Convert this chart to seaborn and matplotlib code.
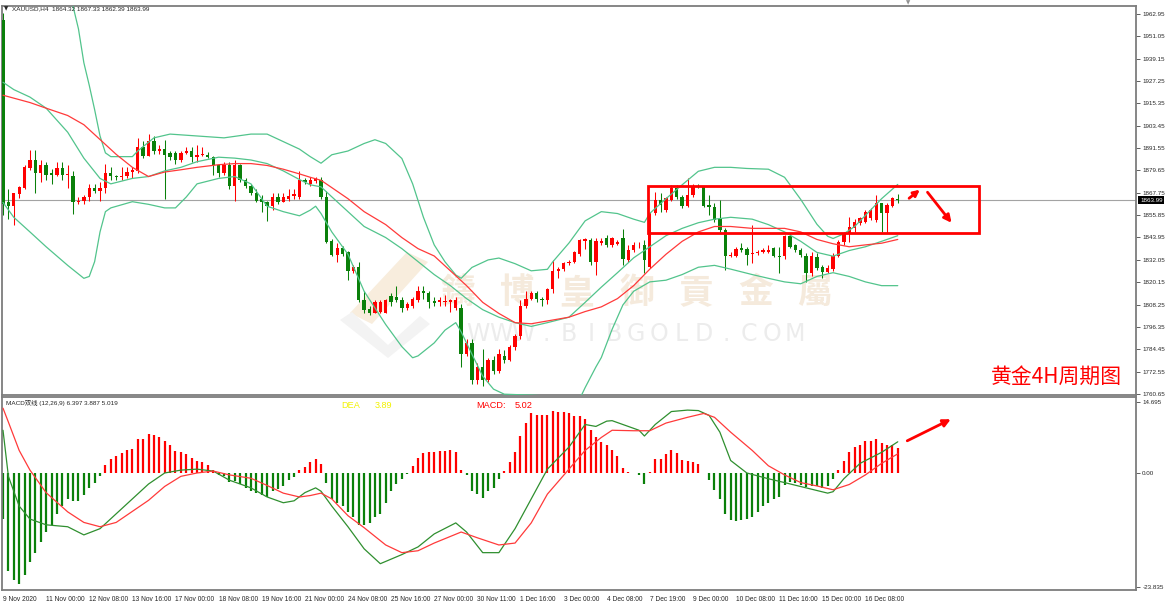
import numpy as np
import pandas as pd
import matplotlib
matplotlib.use("Agg")
import matplotlib.pyplot as plt
from matplotlib.patches import Rectangle, Polygon
import seaborn as sns

# ---- XAUUSD H4 bars, bar 0 = 9 Nov 2020 ----
opens = [1959.5, 1863.0, 1860.5, 1867.0, 1870.5, 1881.0, 1885.3, 1878.4, 1882.3, 1878.3,
         1877.0, 1880.8, 1877.0, 1876.8, 1862.6, 1863.6, 1865.6, 1870.5, 1868.5, 1870.5,
         1878.4, 1876.8, 1876.0, 1876.8, 1879.0, 1879.4, 1892.2, 1887.2, 1895.1, 1890.0,
         1891.0, 1889.0, 1889.0, 1885.0, 1889.0, 1889.8, 1887.0, 1888.0, 1888.0, 1887.0,
         1882.3, 1878.4, 1882.3, 1871.5, 1882.3, 1874.4, 1871.5, 1867.5, 1864.6, 1862.6,
         1860.6, 1865.6, 1863.0, 1864.2, 1866.0, 1865.6, 1874.4, 1872.5, 1874.0, 1874.4,
         1865.6, 1841.9, 1834.6, 1838.4, 1836.0, 1826.2, 1828.1, 1810.4, 1806.0, 1804.0,
         1804.5, 1803.9, 1812.8, 1812.4, 1810.4, 1806.5, 1807.5, 1810.4, 1815.3, 1814.3,
         1810.0, 1809.4, 1809.6, 1809.4, 1806.5, 1806.5, 1781.8, 1787.8, 1768.0, 1774.9,
         1768.0, 1778.9, 1773.0, 1780.9, 1778.9, 1785.4, 1791.7, 1807.5, 1811.4, 1814.3,
         1811.4, 1810.4, 1816.3, 1826.2, 1827.2, 1830.1, 1831.1, 1835.0, 1842.0, 1842.5,
         1831.1, 1841.2, 1843.5, 1839.9, 1840.5, 1843.5, 1832.0, 1837.3, 1839.2, 1839.9,
         1828.4, 1856.8, 1864.0, 1858.6, 1863.9, 1870.1, 1865.3, 1860.7, 1866.6, 1871.5,
         1871.0, 1861.2, 1860.4, 1853.6, 1847.9, 1834.1, 1834.3, 1838.2, 1837.6, 1835.2,
         1835.5, 1836.4, 1836.4, 1838.2, 1834.1, 1834.1, 1844.7, 1839.9, 1837.3, 1834.1,
         1824.9, 1833.7, 1828.0, 1825.7, 1827.0, 1834.1, 1841.7, 1846.2, 1848.8, 1851.5,
         1852.4, 1854.1, 1853.3, 1862.1, 1857.2, 1860.7, 1864.32]
highs = [1963.5, 1870.0, 1867.5, 1871.5, 1882.3, 1890.6, 1890.6, 1885.3, 1884.3, 1880.3,
         1884.3, 1884.3, 1882.3, 1879.4, 1865.6, 1866.5, 1872.5, 1872.5, 1873.4, 1883.3,
         1881.3, 1877.4, 1881.3, 1881.3, 1881.3, 1897.0, 1895.1, 1899.0, 1898.1, 1893.1,
         1896.1, 1890.2, 1890.2, 1890.2, 1892.2, 1892.2, 1893.1, 1892.2, 1889.2, 1887.2,
         1883.3, 1884.3, 1884.3, 1885.2, 1883.3, 1875.4, 1872.5, 1869.5, 1866.6, 1863.6,
         1867.5, 1867.5, 1867.5, 1869.5, 1869.5, 1879.4, 1875.4, 1876.4, 1876.0, 1876.4,
         1868.5, 1842.9, 1840.9, 1839.5, 1837.0, 1829.1, 1831.1, 1815.3, 1807.5, 1810.4,
         1810.4, 1811.4, 1814.3, 1818.3, 1812.4, 1809.4, 1812.4, 1818.3, 1818.3, 1815.3,
         1812.4, 1812.4, 1813.3, 1811.4, 1812.4, 1808.4, 1789.7, 1789.7, 1776.9, 1784.8,
         1779.9, 1780.9, 1784.8, 1783.8, 1786.8, 1792.7, 1810.4, 1815.3, 1815.3, 1815.3,
         1812.4, 1817.3, 1832.1, 1828.1, 1831.1, 1832.1, 1837.0, 1843.0, 1843.9, 1843.9,
         1843.9, 1843.5, 1845.3, 1844.4, 1842.6, 1848.3, 1839.9, 1841.7, 1841.7, 1842.6,
         1857.5, 1868.3, 1867.5, 1865.7, 1871.9, 1871.9, 1866.6, 1875.4, 1872.5, 1872.5,
         1871.5, 1866.6, 1862.1, 1863.9, 1848.8, 1836.4, 1839.1, 1841.0, 1839.1, 1850.6,
         1837.3, 1838.2, 1840.0, 1839.1, 1839.1, 1845.3, 1846.2, 1840.5, 1838.2, 1835.5,
         1836.4, 1835.5, 1829.3, 1829.3, 1835.5, 1842.6, 1847.0, 1854.9, 1853.6, 1855.0,
         1858.6, 1859.5, 1866.6, 1862.5, 1862.1, 1865.7, 1867.33]
lows = [1856.0, 1853.7, 1850.8, 1865.0, 1869.5, 1880.0, 1867.5, 1873.5, 1874.4, 1872.5,
        1876.8, 1874.4, 1870.5, 1856.7, 1861.6, 1862.0, 1863.6, 1867.5, 1863.6, 1867.5,
        1874.4, 1874.4, 1874.4, 1875.4, 1875.4, 1878.4, 1886.2, 1887.2, 1888.2, 1888.2,
        1864.6, 1885.2, 1883.3, 1884.3, 1888.2, 1884.3, 1884.3, 1887.2, 1886.2, 1877.4,
        1876.4, 1877.4, 1869.5, 1863.6, 1873.4, 1870.5, 1866.6, 1862.6, 1857.7, 1852.8,
        1858.7, 1861.6, 1862.6, 1863.6, 1864.6, 1864.6, 1872.5, 1871.5, 1873.0, 1864.6,
        1840.9, 1834.0, 1831.1, 1834.0, 1821.2, 1825.2, 1809.4, 1803.5, 1802.5, 1803.5,
        1803.5, 1803.5, 1807.5, 1809.4, 1804.5, 1805.5, 1806.5, 1809.4, 1811.4, 1806.5,
        1807.5, 1807.5, 1807.5, 1804.5, 1805.5, 1774.9, 1780.9, 1766.1, 1766.1, 1765.1,
        1767.1, 1771.0, 1772.0, 1776.9, 1778.0, 1784.0, 1789.7, 1806.5, 1810.4, 1809.4,
        1807.5, 1808.4, 1814.3, 1822.2, 1826.2, 1829.1, 1830.1, 1834.0, 1838.0, 1829.1,
        1824.2, 1839.9, 1839.1, 1839.1, 1839.9, 1829.3, 1831.1, 1836.4, 1838.2, 1824.9,
        1827.5, 1855.9, 1857.7, 1857.7, 1863.6, 1864.3, 1859.5, 1860.4, 1865.7, 1870.1,
        1860.0, 1855.9, 1852.0, 1847.0, 1826.6, 1833.4, 1833.7, 1836.4, 1829.3, 1830.2,
        1834.6, 1835.5, 1835.5, 1833.4, 1824.9, 1832.3, 1838.2, 1836.4, 1833.4, 1820.4,
        1823.5, 1826.6, 1822.5, 1825.0, 1826.0, 1833.4, 1839.9, 1841.7, 1847.0, 1850.6,
        1851.5, 1853.3, 1852.4, 1847.0, 1846.2, 1860.0, 1862.39]
closes = [1862.0, 1860.5, 1867.5, 1871.0, 1881.3, 1885.3, 1878.4, 1882.3, 1877.4, 1877.4,
          1880.8, 1877.0, 1877.6, 1862.6, 1863.6, 1865.6, 1870.5, 1868.5, 1870.5, 1878.4,
          1876.8, 1876.0, 1876.8, 1879.0, 1880.0, 1892.2, 1887.2, 1895.1, 1890.2, 1891.0,
          1887.8, 1887.0, 1885.0, 1889.0, 1889.8, 1886.6, 1888.0, 1888.2, 1887.0, 1882.3,
          1878.4, 1882.3, 1871.5, 1882.3, 1874.4, 1871.5, 1867.5, 1863.6, 1862.6, 1860.6,
          1865.6, 1863.0, 1865.6, 1866.2, 1867.0, 1874.4, 1873.5, 1874.4, 1875.0, 1865.6,
          1841.3, 1834.6, 1838.4, 1835.4, 1826.2, 1828.1, 1810.4, 1805.5, 1804.0, 1809.4,
          1809.4, 1810.4, 1809.4, 1810.4, 1806.5, 1808.4, 1811.4, 1815.3, 1814.3, 1809.4,
          1809.0, 1810.4, 1809.9, 1810.4, 1810.4, 1781.8, 1787.8, 1768.0, 1774.9, 1768.0,
          1778.9, 1773.0, 1781.8, 1778.9, 1785.4, 1791.7, 1807.5, 1811.4, 1814.3, 1811.4,
          1810.4, 1816.3, 1826.2, 1827.2, 1830.1, 1831.1, 1836.0, 1842.5, 1843.3, 1831.1,
          1842.0, 1842.2, 1839.9, 1843.5, 1841.7, 1832.3, 1837.3, 1839.9, 1839.5, 1832.0,
          1856.8, 1863.9, 1861.5, 1864.8, 1870.1, 1865.3, 1860.7, 1866.6, 1871.0, 1871.2,
          1860.7, 1860.4, 1853.3, 1847.9, 1834.1, 1834.8, 1837.6, 1837.3, 1834.6, 1835.5,
          1836.4, 1837.3, 1837.3, 1834.1, 1833.4, 1844.7, 1839.1, 1837.3, 1834.6, 1824.9,
          1834.1, 1827.5, 1825.7, 1827.5, 1834.1, 1841.7, 1846.2, 1849.7, 1852.4, 1854.1,
          1857.7, 1858.6, 1862.1, 1856.8, 1861.2, 1864.8, 1863.99]

# ---- Bollinger bands (green) and red moving average, sampled at bar index ----
bb_up_at = [0, 5, 10, 12, 13, 14, 15, 16, 17, 18, 19, 20, 24, 25, 28, 31, 36, 41, 46, 49, 52, 55,
            57, 59, 61, 64, 67, 69, 71, 74, 76, 78, 80, 82, 84, 85, 87, 90, 92, 95, 98, 101, 102,
            105, 108, 111, 114, 117, 119, 120, 123, 126, 129, 132, 135, 138, 142, 145, 148, 151,
            153, 154, 156, 158, 160, 163, 166]
bb_up = [2015, 2010, 1995, 1978, 1967, 1955, 1937, 1925, 1912, 1898, 1889, 1887, 1887, 1890, 1897,
         1899, 1898, 1897, 1899, 1899, 1895, 1891, 1887, 1883.5, 1888, 1890, 1894, 1896, 1894,
         1886, 1872.5, 1854.7, 1840, 1831, 1824, 1822.2, 1828, 1832, 1833, 1830, 1826.2, 1827,
         1831, 1841, 1852.8, 1857.7, 1856.7, 1853.7, 1852, 1856.8, 1864.6, 1872, 1879.2, 1881.3,
         1881.3, 1880.7, 1880.3, 1876, 1864.2, 1851, 1844.6, 1843.4, 1845.9, 1849.8, 1855.7,
         1864.6, 1872.2]
bb_mid_at = [0, 2, 5, 8, 12, 15, 18, 20, 24, 27, 30, 33, 36, 40, 43, 46, 49, 52, 55, 57, 59, 61,
             64, 67, 71, 74, 77, 80, 83, 86, 89, 92, 95, 98, 101, 105, 108, 111, 114, 117, 120, 123,
             126, 129, 132, 135, 139, 142, 145, 148, 151, 154, 157, 160, 163, 166]
bb_mid = [1926.6, 1922.7, 1918.7, 1912.8, 1900, 1886.2, 1875.4, 1872.5, 1875.4, 1876.4, 1879.4,
          1881.3, 1884.3, 1886.7, 1886.2, 1885.2, 1883.3, 1879.4, 1874.8, 1872.0, 1870.9, 1865.6,
          1857.7, 1849.8, 1843.9, 1838, 1831.1, 1824.2, 1818.3, 1811.4, 1805.5, 1801.5, 1798.6,
          1796.6, 1798.6, 1801.5, 1809.4, 1817.5, 1825.2, 1833.1, 1839, 1844.9, 1848.8, 1851.8,
          1853.7, 1854.7, 1853.7, 1850.8, 1846.9, 1841.9, 1836, 1834, 1837, 1839, 1841.9, 1844.9]
bb_low_at = [0, 2, 5, 8, 12, 15, 16, 17, 18, 19, 20, 24, 27, 30, 32, 34, 36, 40, 43, 46, 49, 52,
             55, 57, 58, 59, 61, 64, 67, 71, 74, 76, 77, 80, 82, 84, 85, 87, 89, 91, 93, 98, 101,
             104, 107, 108, 110, 111, 113, 115, 117, 120, 123, 126, 129, 132, 135, 139, 142, 145,
             148, 151, 154, 157, 160, 163, 166]
bb_low = [1862.6, 1854.7, 1846.9, 1839, 1829.1, 1822.2, 1823.2, 1831.1, 1846.9, 1857.7, 1859.7,
          1863, 1861.6, 1859.7, 1859.7, 1865.5, 1872.5, 1875.4, 1876.4, 1872.5, 1860.6, 1857.7,
          1855.5, 1858.5, 1860.6, 1856.7, 1846.9, 1835, 1815.3, 1797.6, 1785.8, 1779.9, 1780.9,
          1787.8, 1794.6, 1798.6, 1793.7, 1781.8, 1770.1, 1763.2, 1760.5, 1760.0, 1759.5, 1755,
          1758, 1764, 1775, 1780, 1795, 1808, 1815.3, 1820.3, 1821.2, 1824.2, 1828.1, 1829.1,
          1827.1, 1824.2, 1822.2, 1820.3, 1819.3, 1823.2, 1825.2, 1823.2, 1820.3, 1818.3, 1818.3]
ma_at = [0, 5, 8, 12, 15, 18, 21, 24, 27, 30, 33, 36, 40, 43, 46, 49, 52, 55, 57, 59, 61, 64, 67,
         71, 74, 77, 80, 83, 86, 89, 92, 95, 98, 101, 105, 108, 111, 114, 117, 120, 123, 126, 129,
         132, 135, 139, 142, 145, 148, 151, 154, 157, 160, 163, 166]
ma_red = [1919.7, 1915.8, 1912.8, 1908.9, 1904, 1896.1, 1888.2, 1881.3, 1876.4, 1878.8, 1880,
          1881.3, 1882.7, 1883.3, 1883.3, 1882.3, 1880.3, 1877.8, 1876, 1874.4, 1870.5, 1864.6,
          1857.7, 1850.8, 1843.9, 1838, 1834.1, 1826.2, 1818.3, 1809.4, 1803.5, 1798.6, 1798,
          1799.5, 1801.5, 1804.5, 1807, 1811.4, 1818.3, 1827.1, 1835, 1841.9, 1846.9, 1849.8,
          1849.8, 1848.8, 1848.8, 1848.8, 1846.9, 1842.9, 1840.6, 1839, 1840, 1840.9, 1842.9]

# ---- MACD (12,26,9) ----
macd_hist = [-9.7, -20.5, -22.5, -23.2, -21.3, -18.6, -16.7, -14.4, -12.4, -10.9,
             -8.6, -7.0, -5.5, -5.9, -5.9, -4.7, -3.2, -2.1, -0.7, 1.6,
             2.8, 3.4, 4.0, 4.6, 4.9, 6.9, 7.0, 8.0, 7.8, 7.3,
             6.5, 5.7, 4.4, 4.2, 3.8, 3.0, 2.4, 2.1, 1.5, 0.5,
             -0.5, -0.8, -2.0, -1.8, -2.4, -3.2, -3.9, -4.3, -4.7, -5.1,
             -3.9, -3.5, -2.8, -1.6, -1.0, 0.5, 1.2, 2.2, 2.8, 1.8,
             -2.1, -5.5, -6.3, -7.0, -8.2, -9.3, -10.9, -10.9, -10.5, -9.3,
             -8.6, -6.3, -3.9, -2.4, -1.3, -0.3, 1.3, 3.0, 4.0, 4.2,
             4.2, 4.4, 4.4, 4.6, 4.2, 0.6, -0.5, -3.9, -4.4, -5.3,
             -3.9, -3.2, -1.3, 0.3, 2.1, 4.2, 7.6, 10.3, 12.3, 11.9,
             11.9, 11.9, 12.9, 12.7, 12.7, 12.3, 11.7, 11.7, 11.1, 8.8,
             7.3, 6.3, 5.7, 4.6, 3.4, 1.0, 0.2, -0.1, -0.5, -2.3,
             0.2, 2.8, 2.9, 3.9, 4.6, 4.1, 2.7, 2.4, 2.2, 1.8,
             -0.1, -1.5, -3.6, -5.5, -8.6, -10.0, -10.1, -10.0, -9.7, -9.3,
             -8.2, -7.0, -6.3, -5.5, -5.1, -2.5, -1.9, -2.1, -2.5, -3.1,
             -2.8, -2.8, -3.2, -2.8, -1.3, 0.6, 2.5, 4.2, 5.3, 5.7,
             6.5, 6.5, 6.9, 6.1, 5.7, 5.7, 5.02]
dif_at = [0, 1, 3, 5, 8, 12, 15, 18, 21, 24, 27, 30, 33, 36, 39, 42, 46, 49, 52, 54, 56, 58, 59,
          61, 64, 67, 70, 74, 77, 80, 84, 86, 89, 92, 95, 98, 101, 105, 108, 110, 112, 113, 116,
          118, 119, 121, 124, 127, 129, 131, 133, 135, 138, 142, 145, 149, 153, 154, 156, 159, 163,
          166]
dif = [8.8, -0.8, -7.0, -9.7, -10.9, -11.3, -13.0, -11.7, -8.6, -5.5, -2.4, -0.1, 0.5, 0.7, 0.3,
       -1.6, -3.2, -5.1, -6.3, -5.9, -4.2, -3.2, -3.9, -7.0, -11.3, -15.9, -19.0, -17.1, -15.5,
       -12.8, -10.5, -12.4, -16.7, -16.7, -11.7, -5.5, 0.7, 5.3, 10.0, 9.6, 10.7, 10.8, 9.6, 8.8,
       7.6, 10.0, 12.7, 13.0, 12.9, 11.9, 8.4, 2.5, -0.1, -1.3, -2.1, -3.2, -4.3, -4.0, -1.3, 1.9,
       4.2, 6.397]
dea_at = [0, 1, 3, 5, 8, 12, 15, 18, 21, 24, 27, 30, 33, 36, 39, 42, 46, 49, 52, 55, 57, 59, 61,
          64, 67, 71, 74, 77, 80, 85, 88, 92, 95, 98, 101, 105, 108, 111, 113, 117, 120, 123, 127,
          130, 132, 135, 139, 142, 145, 148, 151, 154, 157, 160, 163, 166]
dea = [13.4, 10.5, 4.6, 0.5, -4.2, -8.2, -10.4, -11.3, -10.4, -8.1, -5.8, -2.9, -0.8, -0.1, 0.3,
       -0.5, -1.2, -2.7, -4.3, -5.1, -4.8, -4.3, -5.5, -9.0, -11.5, -15.1, -16.7, -16.3, -14.7,
       -12.4, -13.6, -15.1, -14.7, -10.5, -4.5, 0.7, 4.6, 7.3, 8.8, 8.7, 8.7, 10.3, 11.5, 12.3,
       11.5, 8.4, 4.6, 1.4, -0.5, -2.1, -2.8, -3.6, -2.5, -0.5, 1.9, 3.887]

price_ticks = [1962.95, 1951.05, 1939.15, 1927.25, 1915.35, 1903.45, 1891.55, 1879.65, 1867.75,
               1855.85, 1843.95, 1832.05, 1820.15, 1808.25, 1796.35, 1784.45, 1772.55, 1760.65]
macd_ticks = [14.695, 0.0, -23.835]
macd_tick_labels = ["14.695", "0.00", "-23.835"]
time_labels = ["9 Nov 2020", "11 Nov 00:00", "12 Nov 08:00", "13 Nov 16:00", "17 Nov 00:00",
               "18 Nov 08:00", "19 Nov 16:00", "21 Nov 00:00", "24 Nov 08:00", "25 Nov 16:00",
               "27 Nov 00:00", "30 Nov 11:00", "1 Dec 16:00", "3 Dec 00:00", "4 Dec 08:00",
               "7 Dec 19:00", "9 Dec 00:00", "10 Dec 08:00", "11 Dec 16:00", "15 Dec 00:00",
               "16 Dec 08:00"]
last_price = 1863.99

RED = "#ff0000"
GREEN = "#0a800a"
BAND = "#52c48c"
FRAME = "#7d7d7d"

sns.set_style("white")
plt.rcParams["font.family"] = ["Liberation Sans", "Noto Sans CJK SC", "DejaVu Sans"]

W, H = 1170, 608
fig = plt.figure(figsize=(W / 100, H / 100), dpi=100)


def fpos(x, y):
    # pixel position -> figure fraction (for overlay text only)
    return x / W, 1 - y / H


ax = fig.add_axes([2 / W, 1 - 395 / H, 1134 / W, 389 / H])
axm = fig.add_axes([2 / W, 1 - 590 / H, 1134 / W, 193 / H])

# ---- candles ----
bars = pd.DataFrame({"i": np.arange(len(closes)), "open": opens, "high": highs,
                     "low": lows, "close": closes})
bars["color"] = np.where(bars["close"] >= bars["open"], RED, GREEN)
bars["body_lo"] = bars[["open", "close"]].min(axis=1)
bars["body_h"] = (bars["close"] - bars["open"]).abs().clip(lower=0.4)

ax.axhline(last_price, color="#a3a3a3", lw=0.8, zorder=1)
ax.vlines(bars["i"], bars["low"], bars["high"], colors=bars["color"], linewidth=0.75, zorder=2)
ax.bar(bars["i"], bars["body_h"], bottom=bars["body_lo"], width=0.62,
       color=bars["color"], linewidth=0, zorder=3)

for xs, ys, c in [(bb_up_at, bb_up, BAND), (bb_mid_at, bb_mid, BAND),
                  (bb_low_at, bb_low, BAND), (ma_at, ma_red, "#ff3a3a")]:
    sns.lineplot(x=xs, y=ys, ax=ax, color=c, linewidth=0.9, estimator=None, zorder=4)

ax.set_xlim(-0.186, 210.2)
ax.set_ylim(1760.07, 1967.21)
ax.set_xticks([])
ax.set_yticks(price_ticks)
ax.set_yticklabels([f"{v:.2f}" for v in price_ticks])
ax.yaxis.tick_right()
ax.tick_params(axis="y", length=3, width=0.6, color="#444444", labelsize=4.5, pad=1.5)
ax.set_xlabel("")
ax.set_ylabel("")

# red box and arrows
ax.add_patch(Rectangle((119.7, 1846.3), 61.4, 25.1, fill=False, edgecolor=RED, lw=2.0, zorder=6))
ax.annotate("", xy=(170.5, 1870.3), xytext=(167.7, 1863.9),
            arrowprops=dict(arrowstyle="-|>", color=RED, lw=2, mutation_scale=9), zorder=7)
ax.annotate("", xy=(176.3, 1850.6), xytext=(171.2, 1869.2),
            arrowprops=dict(arrowstyle="-|>", color=RED, lw=2, mutation_scale=11), zorder=7)

# watermark
for k, ch in enumerate("鑄博皇御貢金屬"):
    x, y = fpos(458 + 59.5 * k, 293)
    ax.text(x, y, ch, transform=fig.transFigure, fontsize=25, color="#f5eadc", ha="center",
            va="center", family=["Noto Sans CJK TC", "DejaVu Sans"], weight="bold", zorder=0.5)
for k, ch in enumerate("WWW.BIBGOLD.COM"):
    x, y = fpos(478 + 22.6 * k, 334)
    ax.text(x, y, ch, transform=fig.transFigure, fontsize=17, color="#ececec", ha="center",
            va="center", family=["DejaVu Sans"], zorder=0.5)
logo_tan = [fpos(407, 252), fpos(428, 262), fpos(372, 324), fpos(350, 313)]
logo_gray = [fpos(340, 320), fpos(352, 312), fpos(388, 345), fpos(420, 316), fpos(430, 324),
             fpos(388, 358)]
ax.add_patch(Polygon(logo_tan, closed=True, transform=fig.transFigure, facecolor="#f8eddd",
                     edgecolor="none", zorder=0.4))
ax.add_patch(Polygon(logo_gray, closed=True, transform=fig.transFigure, facecolor="#f3f3f3",
                     edgecolor="none", zorder=0.4))

# ---- MACD panel ----
hist = pd.DataFrame({"i": np.arange(len(macd_hist)), "v": macd_hist})
hist["color"] = np.where(hist["v"] >= 0, RED, GREEN)
axm.vlines(hist["i"], 0, hist["v"], colors=hist["color"], linewidth=1.6, zorder=2)
sns.lineplot(x=dif_at, y=dif, ax=axm, color="#2f8f2f", linewidth=0.9, estimator=None, zorder=3)
sns.lineplot(x=dea_at, y=dea, ax=axm, color="#ff3a3a", linewidth=0.9, estimator=None, zorder=3)
axm.annotate("", xy=(176.3, 11.35), xytext=(167.3, 6.35),
             arrowprops=dict(arrowstyle="-|>", color=RED, lw=2, mutation_scale=11), zorder=7)

axm.set_xlim(-0.186, 210.2)
axm.set_ylim(-24.48, 15.73)
axm.set_yticks(macd_ticks)
axm.set_yticklabels(macd_tick_labels)
axm.yaxis.tick_right()
axm.tick_params(axis="y", length=3, width=0.6, color="#444444", labelsize=4.5, pad=1.5)
axm.set_xticks(np.arange(len(time_labels)) * 8)
axm.set_xticklabels(time_labels, ha="left")
axm.tick_params(axis="x", length=3, width=0.6, color="#444444", labelsize=4.8, pad=1.5)
axm.set_xlabel("")
axm.set_ylabel("")

for a in (ax, axm):
    for s in a.spines.values():
        s.set_color(FRAME)
        s.set_linewidth(1.3)
    a.set_facecolor("white")

# ---- overlay text ----
fig.text(*fpos(4, 9), "▼", fontsize=4, va="center", ha="left", family=["DejaVu Sans"])
fig.text(*fpos(12, 9), "XAUUSD,H4  1864.32 1867.33 1862.39 1863.99", fontsize=4.6,
         va="center", ha="left")
fig.text(*fpos(908, 3), "▼", fontsize=4, color="#909090", va="center", ha="center",
         family=["DejaVu Sans"])
fig.text(*fpos(1140, 200), "1863.99", fontsize=4.5, color="white", va="center", ha="left",
         bbox=dict(facecolor="black", edgecolor="none", pad=1.2))
fig.text(*fpos(6, 403), "MACD双线 (12,26,9) 6.397 3.887 5.019", fontsize=4.6,
         va="center", ha="left")
fig.text(*fpos(341, 405), "DEA", fontsize=6.6, color="#f2f200", va="center", ha="left")
fig.text(*fpos(375, 405), "3.89", fontsize=6.6, color="#f2f200", va="center", ha="left")
fig.text(*fpos(476, 405), "MACD:", fontsize=6.6, color=RED, va="center", ha="left")
fig.text(*fpos(515, 405), "5.02", fontsize=6.6, color=RED, va="center", ha="left")
fig.text(*fpos(1056, 377), "黄金4H周期图", fontsize=15, color=RED, va="center", ha="center",
         family=["Noto Sans CJK SC", "DejaVu Sans"])

fig.savefig("out.png", dpi=100, facecolor="white")
plt.close(fig)
